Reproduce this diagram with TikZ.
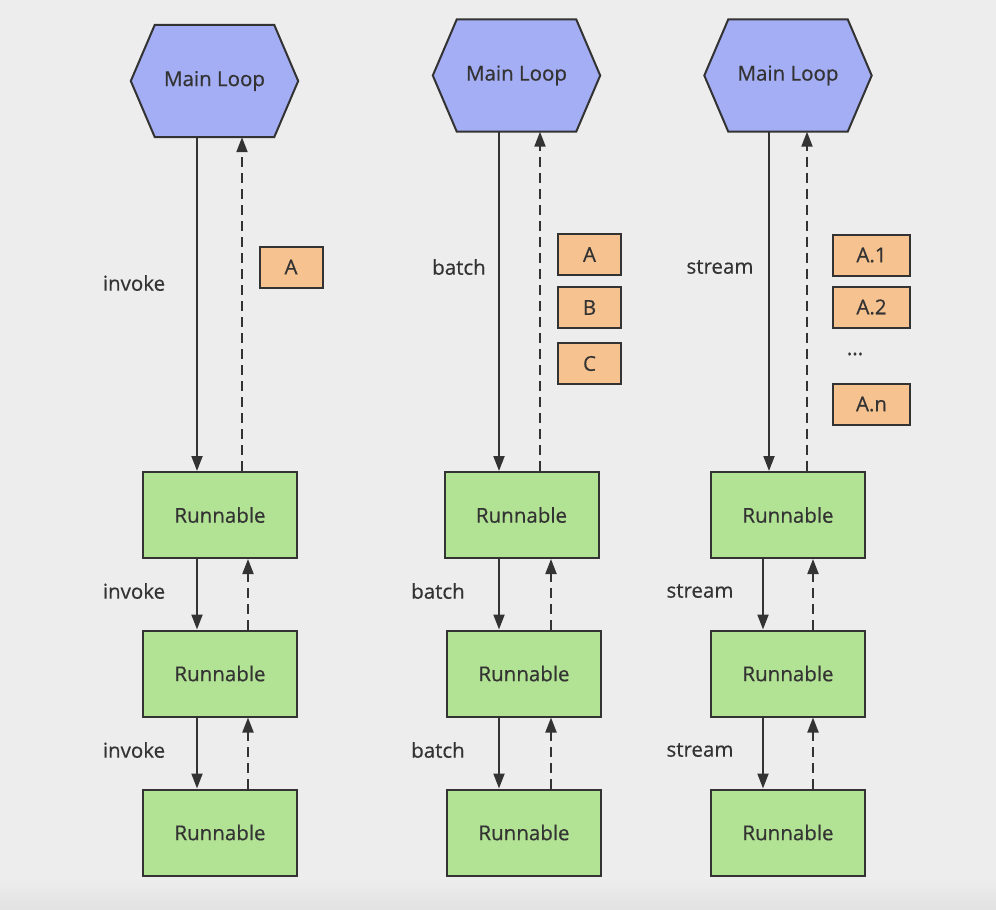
\documentclass[tikz,border=0pt]{standalone}
\usepackage{fontspec}
\setmainfont{Open Sans}
\newfontfamily\labelfont{Open Sans}[FakeBold=0.5]
\usetikzlibrary{arrows.meta,calc}
\definecolor{bgc}{HTML}{EDEDED}
\definecolor{bgd}{HTML}{E2E2E2}
\definecolor{ink}{HTML}{333333}
\definecolor{hexc}{HTML}{A4AEF4}
\definecolor{runc}{HTML}{B2E293}
\definecolor{boxc}{HTML}{F6C28F}
\tikzset{
  every node/.style={font=\labelfont\fontsize{20.5}{24}\selectfont, text=ink},
  hexnode/.style={minimum width=167pt, minimum height=112pt, inner sep=0pt},
  hexdraw/.style={fill=hexc, draw=ink, line width=2pt, line join=miter},
  runbox/.style={draw=ink, fill=runc, line width=2pt, minimum width=154pt, minimum height=86pt, inner sep=0pt},
  valbox/.style={draw=ink, fill=boxc, line width=2pt, minimum width=63pt, minimum height=41pt, inner sep=0pt},
  callarrow/.style={draw=ink, line width=2pt, -{Triangle[length=15pt,width=11pt]}},
  retarrow/.style={draw=ink, line width=2pt, dash pattern=on 10pt off 6pt, -{Triangle[length=15pt,width=11pt]}},
  lbl/.style={inner sep=0pt}
}
\newcommand{\hexof}[1]{%
  \path[hexdraw] ($(#1.north west)+(24pt,0)$) -- ($(#1.north east)+(-24pt,0)$) -- (#1.east) -- ($(#1.south east)+(-24pt,0)$) -- ($(#1.south west)+(24pt,0)$) -- (#1.west) -- cycle;%
  \node at (#1.center) {Main Loop};}
\begin{document}
\begin{tikzpicture}[x=1pt,y=-1pt]
\fill[bgc] (0,0) rectangle (996,910);
\shade[top color=bgc, bottom color=bgd] (0,878) rectangle (996,910);
\useasboundingbox (0,0) rectangle (996,910);

% ---------- column 1 : invoke ----------
\node[hexnode] (h1) at (214.5,81) {};
\hexof{h1}
\node[runbox] (r11) at (220,515) {Runnable};
\node[runbox] (r12) at (220,673.5) {Runnable};
\node[runbox] (r13) at (220,832.5) {Runnable};
\coordinate (c1d) at (197,0);
\coordinate (c1u) at (242,0);
\coordinate (c1v) at (248,0);
\draw[callarrow] (h1.south -| c1d) -- (r11.north -| c1d);
\draw[retarrow] (r11.north -| c1u) -- (h1.south -| c1u);
\draw[callarrow] (r11.south -| c1d) -- (r12.north -| c1d);
\draw[retarrow] (r12.north -| c1v) -- (r11.south -| c1v);
\draw[callarrow] (r12.south -| c1d) -- (r13.north -| c1d);
\draw[retarrow] (r13.north -| c1v) -- (r12.south -| c1v);
\node[lbl] (l11) at (134,283) {invoke};
\node[lbl] (l12) at (134,591) {invoke};
\node[lbl] (l13) at (134,750) {invoke};
\node[valbox] (a1) at (291,267) {A};

% ---------- column 2 : batch ----------
\node[hexnode] (h2) at (516.5,75.5) {};
\hexof{h2}
\node[runbox] (r21) at (521.5,515) {Runnable};
\node[runbox] (r22) at (524,673.5) {Runnable};
\node[runbox] (r23) at (524,832.5) {Runnable};
\coordinate (c2d) at (499,0);
\coordinate (c2u) at (540,0);
\coordinate (c2v) at (551,0);
\draw[callarrow] (h2.south -| c2d) -- (r21.north -| c2d);
\draw[retarrow] (r21.north -| c2u) -- (h2.south -| c2u);
\draw[callarrow] (r21.south -| c2d) -- (r22.north -| c2d);
\draw[retarrow] (r22.north -| c2v) -- (r21.south -| c2v);
\draw[callarrow] (r22.south -| c2d) -- (r23.north -| c2d);
\draw[retarrow] (r23.north -| c2v) -- (r22.south -| c2v);
\node[lbl] (l21) at (459,267) {batch};
\node[lbl] (l22) at (438,591) {batch};
\node[lbl] (l23) at (438,750) {batch};
\node[valbox] (b2a) at (589.5,254.5) {A};
\node[valbox] (b2b) at (589.5,307.5) {B};
\node[valbox] (b2c) at (589.5,363.5) {C};

% ---------- column 3 : stream ----------
\node[hexnode] (h3) at (788,75.5) {};
\hexof{h3}
\node[runbox] (r31) at (788,515) {Runnable};
\node[runbox] (r32) at (788,673.5) {Runnable};
\node[runbox] (r33) at (788,832.5) {Runnable};
\coordinate (c3d) at (769,0);
\coordinate (c3u) at (807,0);
\coordinate (c3e) at (763,0);
\coordinate (c3v) at (813,0);
\draw[callarrow] (h3.south -| c3d) -- (r31.north -| c3d);
\draw[retarrow] (r31.north -| c3u) -- (h3.south -| c3u);
\draw[callarrow] (r31.south -| c3e) -- (r32.north -| c3e);
\draw[retarrow] (r32.north -| c3v) -- (r31.south -| c3v);
\draw[callarrow] (r32.south -| c3e) -- (r33.north -| c3e);
\draw[retarrow] (r33.north -| c3v) -- (r32.south -| c3v);
\node[lbl] (l31) at (720,267) {stream};
\node[lbl] (l32) at (700,591) {stream};
\node[lbl] (l33) at (700,750) {stream};
\node[valbox, minimum width=77pt] (s1) at (871.5,255) {A.1};
\node[valbox, minimum width=77pt] (s2) at (871.5,307) {A.2};
\node[lbl] (sd) at (855,354) {...};
\node[valbox, minimum width=77pt] (sn) at (871.5,404) {A.n};
\end{tikzpicture}
\end{document}
